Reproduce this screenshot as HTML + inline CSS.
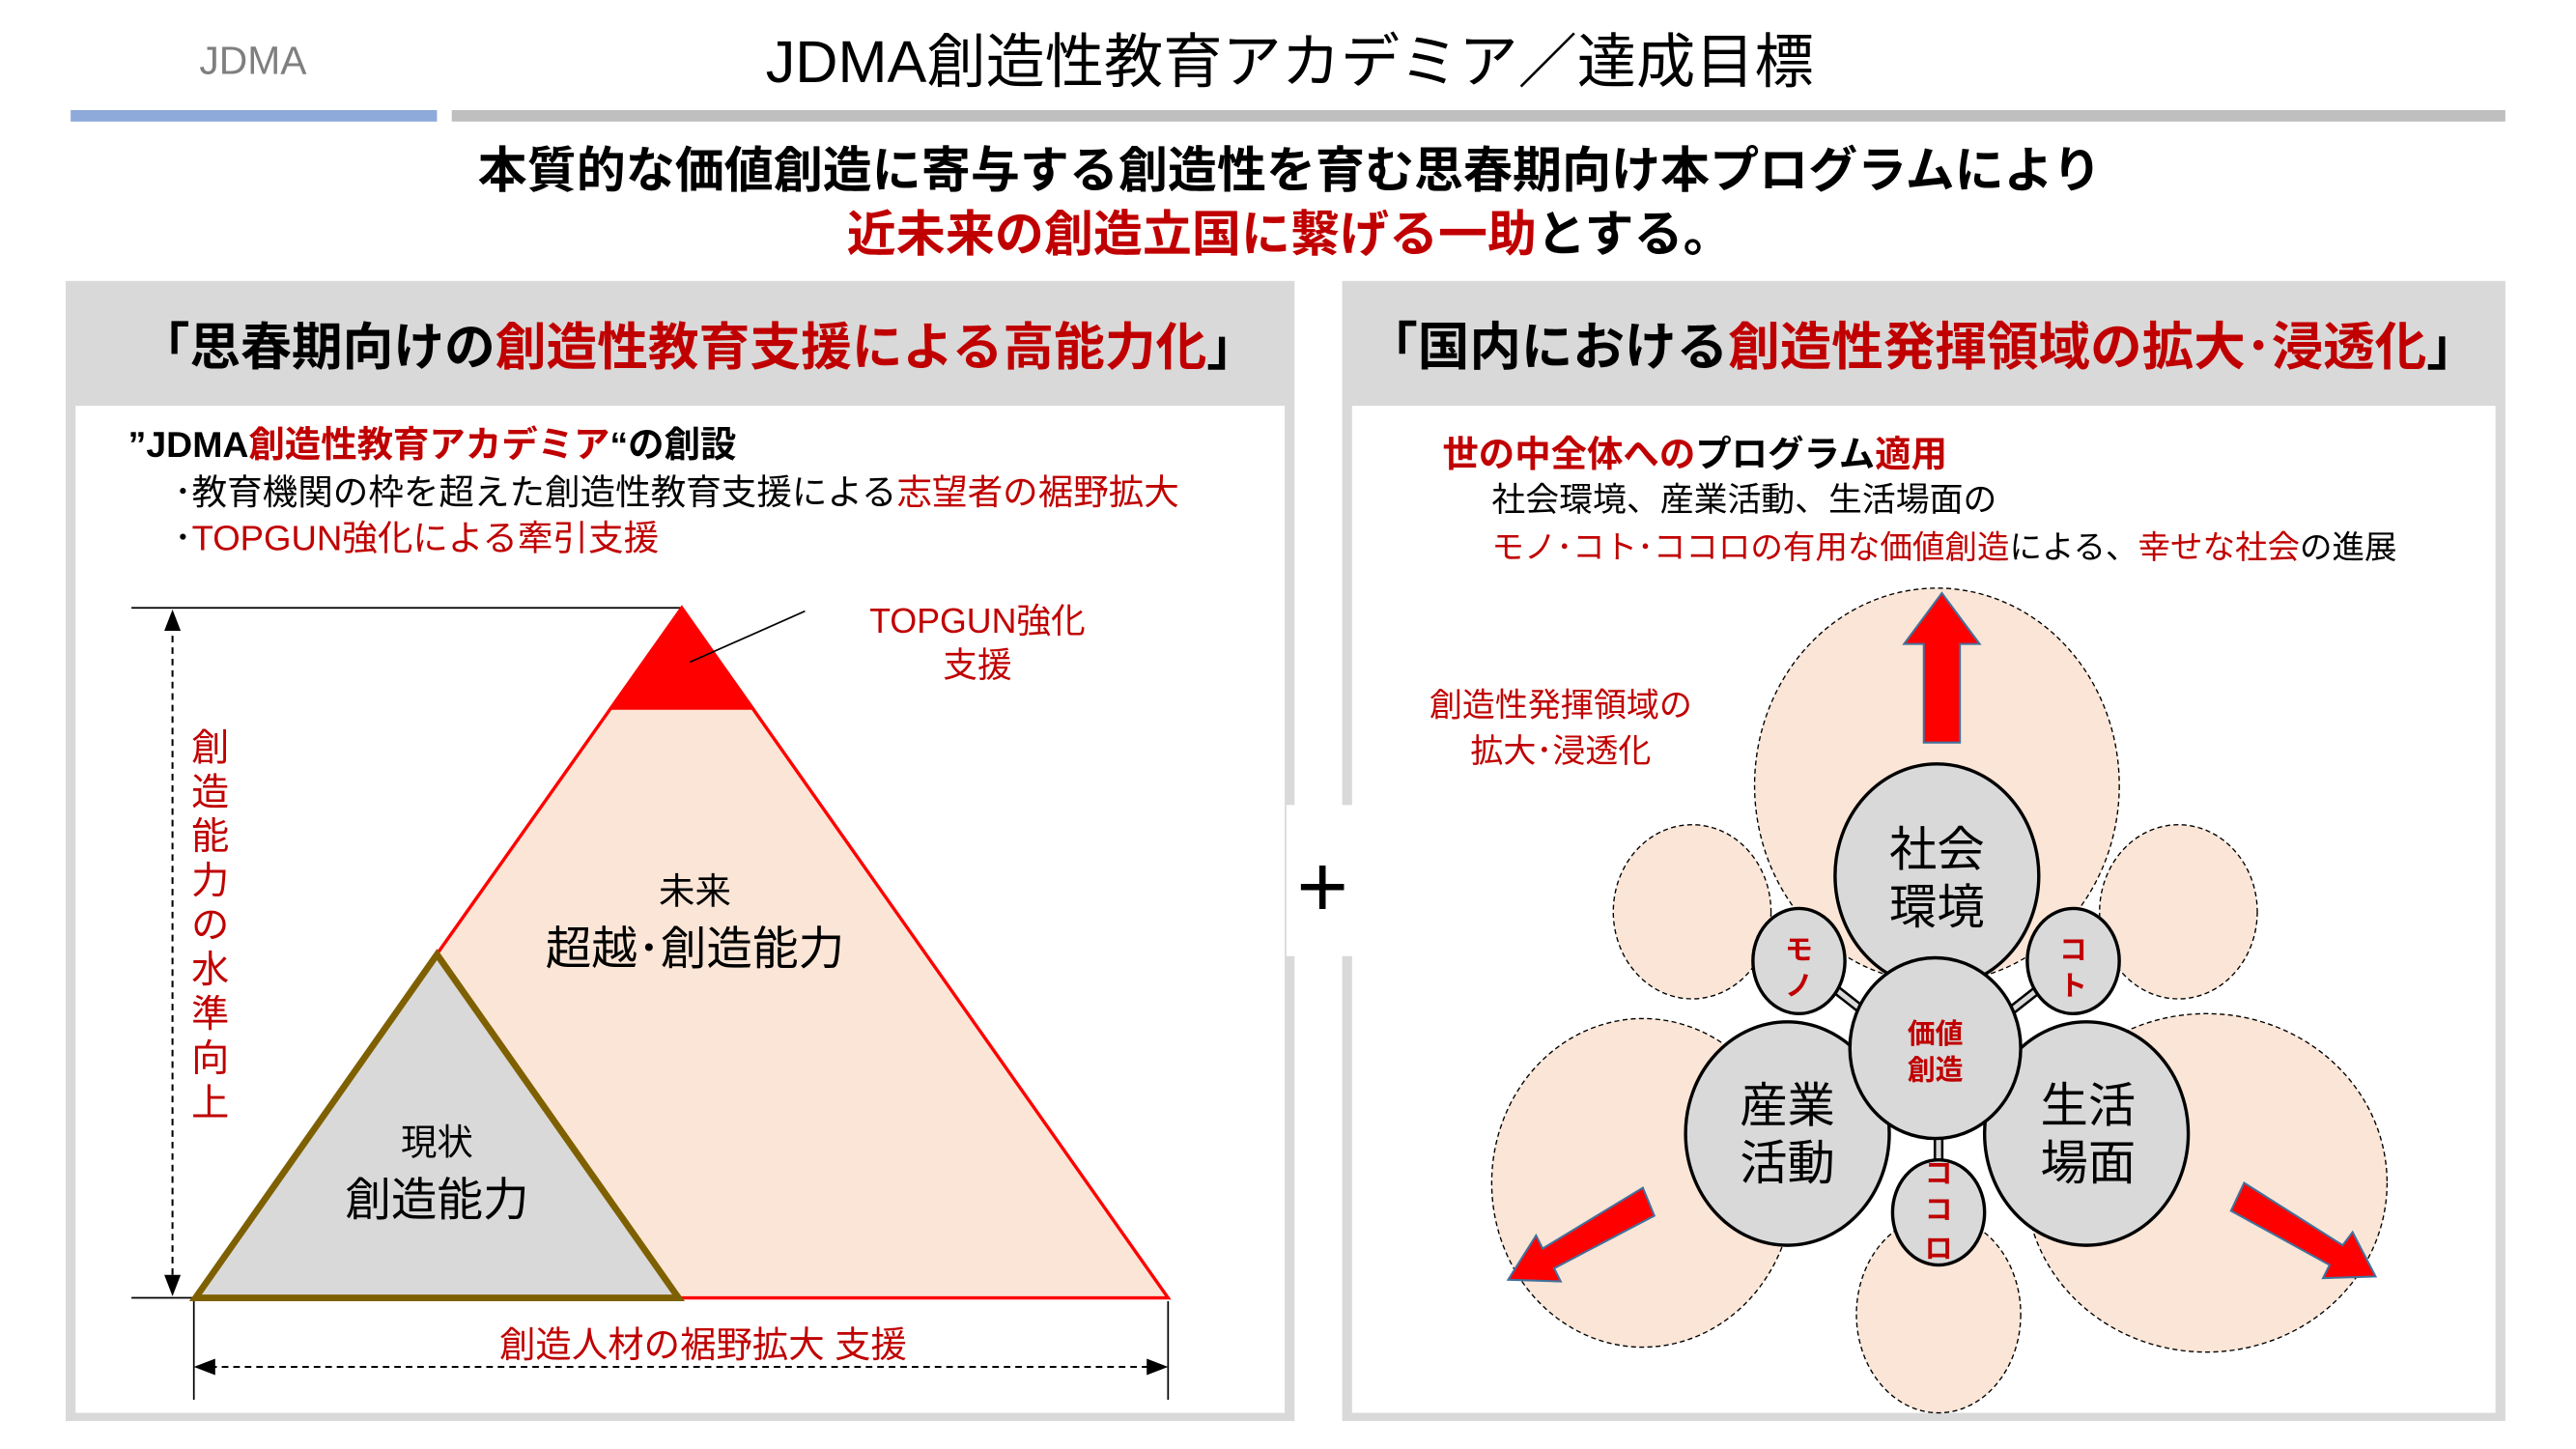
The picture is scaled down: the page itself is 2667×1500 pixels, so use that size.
<!DOCTYPE html>
<html><head><meta charset="utf-8"><style>
html,body{margin:0;padding:0;background:#fff;}
svg{display:block;}
text{font-family:"Liberation Sans","Noto Sans CJK JP",sans-serif;}
</style></head><body>
<svg width="2667" height="1500" viewBox="0 0 1568 882" preserveAspectRatio="none" xmlns="http://www.w3.org/2000/svg">
<rect width="1568" height="882" fill="#fff"/>
<!-- header -->
<text x="154" y="45" font-size="24" fill="#7f7f7f" text-anchor="middle">JDMA</text>
<text x="785" y="50" font-size="36" fill="#000" text-anchor="middle">JDMA創造性教育アカデミア／達成目標</text>
<rect x="43" y="67" width="223" height="7" fill="#8eaadb"/>
<rect x="275" y="67" width="1250" height="7" fill="#bfbfbf"/>
<text x="785" y="114" font-size="30" font-weight="bold" text-anchor="middle">本質的な価値創造に寄与する創造性を育む思春期向け本プログラムにより</text>
<text x="785" y="153" font-size="30" font-weight="bold" text-anchor="middle"><tspan fill="#c00000">近未来の創造立国に繋げる一助</tspan><tspan fill="#000">とする。</tspan></text>
<!-- panels -->
<rect x="40" y="171" width="748" height="694" fill="#d9d9d9"/>
<rect x="46" y="247" width="736" height="613" fill="#fff"/>
<rect x="817" y="171" width="708" height="694" fill="#d9d9d9"/>
<rect x="823" y="247" width="696" height="613" fill="#fff"/>
<rect x="783" y="490" width="45" height="92" fill="#fff"/>
<text x="425" y="222" font-size="31" font-weight="bold" text-anchor="middle"><tspan>「思春期向けの</tspan><tspan fill="#c00000">創造性教育支援による高能力化</tspan><tspan>」</tspan></text>
<text x="1170" y="222" font-size="31.5" font-weight="bold" text-anchor="middle"><tspan>「国内における</tspan><tspan fill="#c00000">創造性発揮領域の拡大･浸透化</tspan><tspan>」</tspan></text>
<text x="805" y="558" font-size="54" text-anchor="middle">+</text>
<!-- left content -->
<text x="78" y="278" font-size="22" font-weight="bold"><tspan>”JDMA</tspan><tspan fill="#c00000">創造性教育アカデミア</tspan><tspan>“の創設</tspan></text>
<text x="106" y="307" font-size="21.5"><tspan>･教育機関の枠を超えた創造性教育支援による</tspan><tspan fill="#c00000">志望者の裾野拡大</tspan></text>
<text x="106" y="335" font-size="21.5"><tspan>･</tspan><tspan fill="#c00000">TOPGUN強化による牽引支援</tspan></text>
<line x1="80" y1="370" x2="415" y2="370" stroke="#000" stroke-width="1"/>
<line x1="80" y1="790" x2="120" y2="790" stroke="#000" stroke-width="1"/>
<line x1="105" y1="380" x2="105" y2="782" stroke="#000" stroke-width="1.2" stroke-dasharray="4,3"/>
<path d="M105,371 L100,384 L110,384 z M105,789 L100,776 L110,776 z" fill="#000"/>
<text font-size="23" fill="#c00000" text-anchor="middle"><tspan x="128" y="463">創</tspan><tspan x="128" y="490">造</tspan><tspan x="128" y="517">能</tspan><tspan x="128" y="544">力</tspan><tspan x="128" y="571">の</tspan><tspan x="128" y="598">水</tspan><tspan x="128" y="625">準</tspan><tspan x="128" y="652">向</tspan><tspan x="128" y="679">上</tspan></text>
<polygon points="415,370 118,790 711,790" fill="#fbe5d6" stroke="#ff0000" stroke-width="2"/>
<polygon points="415,370 370,432 460,432" fill="#ff0000"/>
<line x1="420" y1="403" x2="490" y2="372" stroke="#000" stroke-width="1"/>
<text x="595" y="385" font-size="21" fill="#c00000" text-anchor="middle">TOPGUN強化</text>
<text x="595" y="412" font-size="21" fill="#c00000" text-anchor="middle">支援</text>
<text x="423" y="550" font-size="22" text-anchor="middle">未来</text>
<text x="423" y="587" font-size="28" text-anchor="middle">超越･創造能力</text>
<polygon points="266,581 119,790 413,790" fill="#d9d9d9" stroke="#7f6000" stroke-width="4"/>
<text x="266" y="703" font-size="22" text-anchor="middle">現状</text>
<text x="266" y="740" font-size="28" text-anchor="middle">創造能力</text>
<text x="428" y="826" font-size="22" fill="#c00000" text-anchor="middle">創造人材の裾野拡大 支援</text>
<line x1="118" y1="792" x2="118" y2="852" stroke="#000" stroke-width="1"/>
<line x1="711" y1="792" x2="711" y2="852" stroke="#000" stroke-width="1"/>
<line x1="128" y1="832" x2="701" y2="832" stroke="#000" stroke-width="1.2" stroke-dasharray="4,3"/>
<path d="M118,832 L131,827 L131,837 z M711,832 L698,827 L698,837 z" fill="#000"/>
<!-- right content -->
<text x="878" y="284" font-size="22" font-weight="bold" fill="#c00000"><tspan>世の中全体への</tspan><tspan fill="#000">プログラム</tspan><tspan>適用</tspan></text>
<text x="908" y="311" font-size="20.5">社会環境、産業活動、生活場面の</text>
<text x="908" y="340" font-size="19.7"><tspan fill="#c00000">モノ･コト･ココロの有用な価値創造</tspan><tspan>による、</tspan><tspan fill="#c00000">幸せな社会</tspan><tspan>の進展</tspan></text>
<text x="950" y="436" font-size="20" fill="#c00000" text-anchor="middle">創造性発揮領域の</text>
<text x="950" y="464" font-size="20" fill="#c00000" text-anchor="middle">拡大･浸透化</text>
<g fill="#fbe5d6" stroke="#000" stroke-width="0.8" stroke-dasharray="3,2">
<ellipse cx="1179" cy="478" rx="111" ry="120"/>
<ellipse cx="1030" cy="555" rx="48" ry="53"/>
<ellipse cx="1326" cy="555" rx="48" ry="53"/>
<ellipse cx="1000" cy="720" rx="92" ry="100"/>
<ellipse cx="1343" cy="720" rx="110" ry="103"/>
<ellipse cx="1180" cy="800" rx="50" ry="60"/>
</g>
<!-- arrows -->
<path d="M1171,452 L1171,392 L1159,392 L1182,361 L1205,392 L1193,392 L1193,452 z" fill="#ff0000" stroke="#41719c" stroke-width="1.2"/>
<path d="M1000,723 L1007,740 L946,772 L950,780 L918,779 L935,752 L939,760 z" fill="#ff0000" stroke="#41719c" stroke-width="1.2"/>
<path d="M1366,720 L1358,737 L1418,770 L1414,778 L1446,777 L1432,750 L1426,758 z" fill="#ff0000" stroke="#41719c" stroke-width="1.2"/>
<!-- connectors -->
<g stroke="#000" stroke-width="6"><line x1="1112" y1="598" x2="1140" y2="620"/><line x1="1246" y1="598" x2="1218" y2="620"/><line x1="1180" y1="690" x2="1180" y2="712"/></g>
<g stroke="#d9d9d9" stroke-width="3"><line x1="1112" y1="598" x2="1140" y2="620"/><line x1="1246" y1="598" x2="1218" y2="620"/><line x1="1180" y1="690" x2="1180" y2="712"/></g>
<g fill="#d9d9d9" stroke="#000" stroke-width="2">
<ellipse cx="1179" cy="533" rx="62" ry="68"/>
<ellipse cx="1088" cy="690" rx="62" ry="68"/>
<ellipse cx="1270" cy="690" rx="62" ry="68"/>
<ellipse cx="1095" cy="585" rx="28" ry="32"/>
<ellipse cx="1262" cy="585" rx="28" ry="32"/>
<ellipse cx="1180" cy="738" rx="28" ry="32"/>
<ellipse cx="1178" cy="638" rx="52" ry="55"/>
</g>
<g font-size="29" text-anchor="middle">
<text x="1179" y="527">社会</text><text x="1179" y="562">環境</text>
<text x="1088" y="683">産業</text><text x="1088" y="718">活動</text>
<text x="1271" y="683">生活</text><text x="1271" y="718">場面</text>
</g>
<g font-size="17" font-weight="bold" fill="#c00000" text-anchor="middle">
<text x="1178" y="635">価値</text><text x="1178" y="657">創造</text>
<text x="1095" y="584">モ</text><text x="1095" y="606">ノ</text>
<text x="1262" y="584">コ</text><text x="1262" y="606">ト</text>
<text x="1180" y="720">コ</text><text x="1180" y="742">コ</text><text x="1180" y="766">ロ</text>
</g>
</svg>
</body></html>
